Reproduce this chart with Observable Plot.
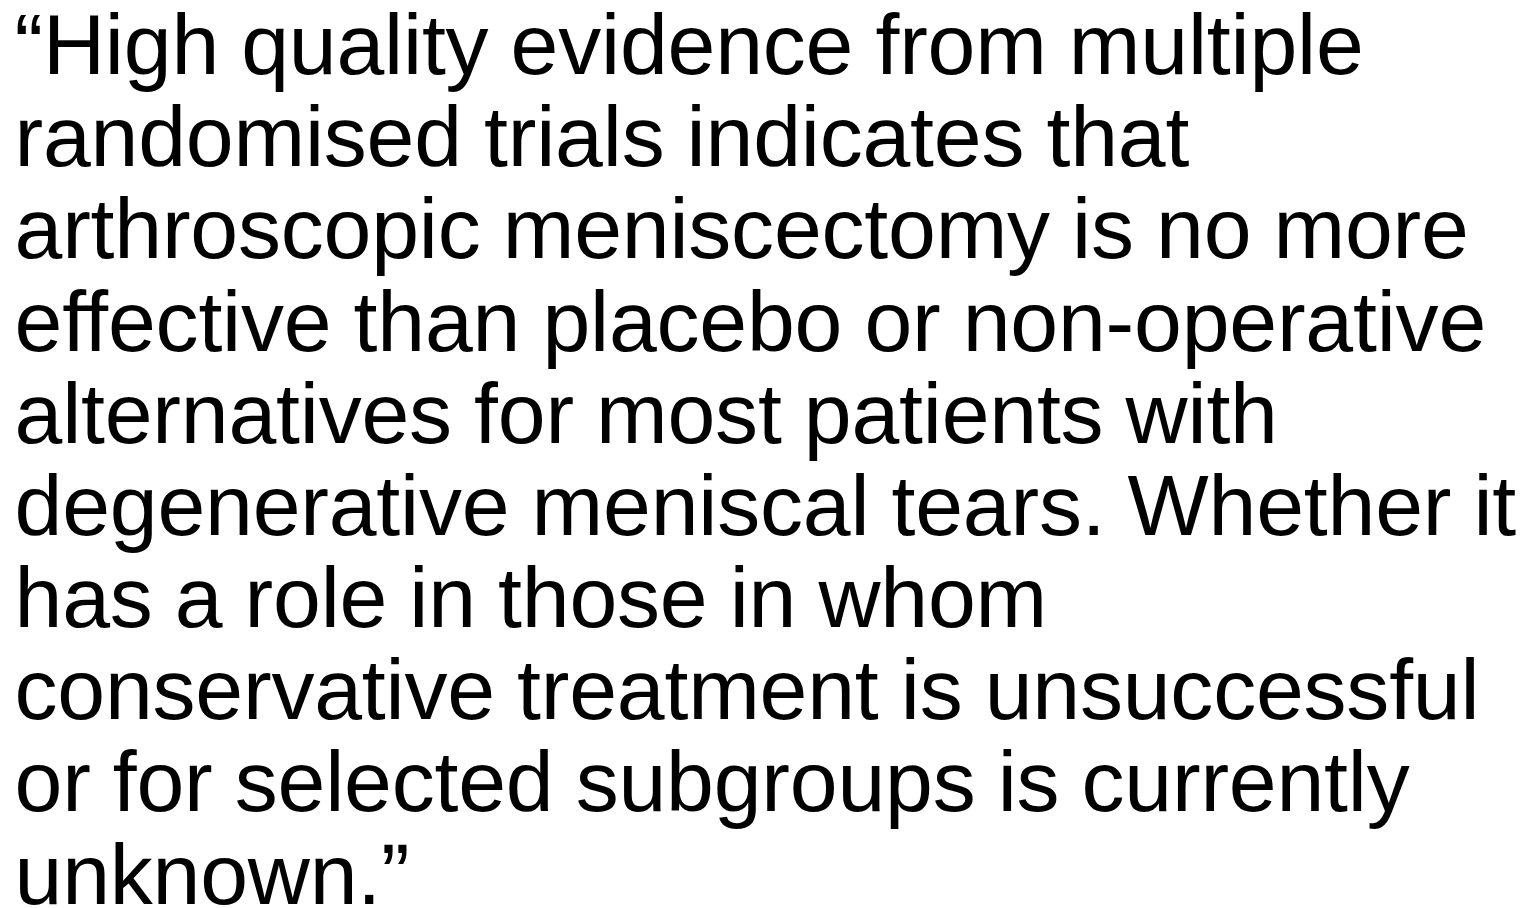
<!DOCTYPE html>
<html>
<head>
<meta charset="utf-8">
<script src="https://cdn.jsdelivr.net/npm/d3@7"></script>
<script src="https://cdn.jsdelivr.net/npm/@observablehq/plot@0.6"></script>
<style>
  html, body { margin: 0; padding: 0; background: #fff; }
  #chart { width: 1536px; height: 908px; overflow: hidden; }
  #chart svg text { letter-spacing: -0.2px; word-spacing: -1.5px; }
</style>
</head>
<body>
<div id="chart"></div>
<script>
const lines = [
  "\u201cHigh quality evidence from multiple",
  "randomised trials indicates that",
  "arthroscopic meniscectomy is no more",
  "effective than placebo or non-operative",
  "alternatives for most patients with",
  "degenerative meniscal tears. Whether it",
  "has a role in those in whom",
  "conservative treatment is unsuccessful",
  "or for selected subgroups is currently",
  "unknown.\u201d"
];
const lineIndex = lines.map((_, i) => i);
const data = lines.map((t, i) => ({ text: t, row: lineIndex[i] }));

const chart = Plot.plot({
  width: 1536,
  height: 908,
  margin: 0,
  style: { background: "#fff", overflow: "hidden" },
  x: { domain: [0, 1], range: [14, 1522], axis: null },
  y: { domain: [0, lines.length - 1], range: [73.5, 903], axis: null },
  marks: [
    Plot.text(data, {
      x: () => 0,
      y: "row",
      text: "text",
      textAnchor: "start",
      lineAnchor: "bottom",
      fontSize: 86,
      fontFamily: "Liberation Sans, Arial, sans-serif",
      fill: "#000"
    })
  ]
});
document.getElementById("chart").appendChild(chart);
</script>
</body>
</html>
